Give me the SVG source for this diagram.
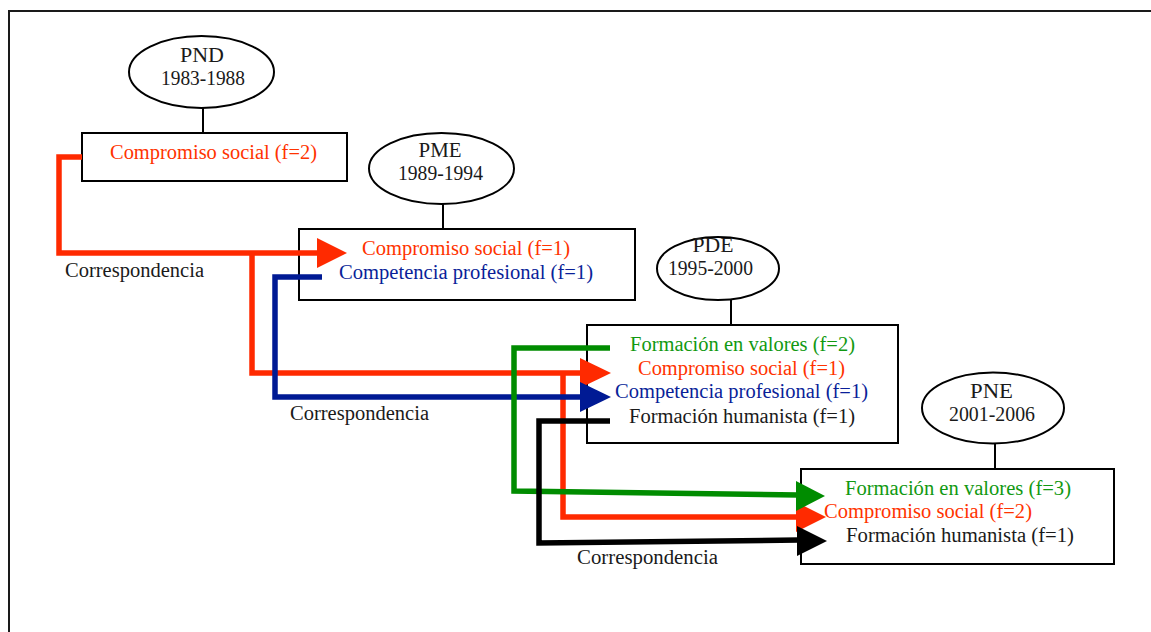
<svg xmlns="http://www.w3.org/2000/svg" width="1151" height="632" viewBox="0 0 1151 632">
  <style>
    text { font-family: "Liberation Serif", "DejaVu Serif", "Noto Serif", serif; font-size: 20px; text-anchor: middle; }
    .k { fill: #1a1a1a; }
    .r { fill: #ff3300; }
    .b { fill: #0a1f99; }
    .g { fill: #119911; }
    .shape { fill: #ffffff; stroke: #000000; stroke-width: 2; }
    .tie { stroke: #000000; stroke-width: 2; fill: none; }
    .wire { fill: none; stroke-width: 5.5; stroke-linejoin: miter; stroke-linecap: butt; }
    .wr { stroke: #ff2a00; }
    .wb { stroke: #001a94; }
    .wg { stroke: #008c00; }
    .wk { stroke: #000000; }
  </style>

  <rect width="1151" height="632" fill="#ffffff"/>
  <!-- outer frame -->
  <rect x="9" y="11" width="1170" height="650" fill="none" stroke="#1a1a1a" stroke-width="2"/>

  <!-- PND 1983-1988 -->
  <g id="pnd">
    <line class="tie" x1="203" y1="108" x2="203" y2="133"/>
    <ellipse class="shape" cx="201.5" cy="72" rx="72.5" ry="36"/>
    <text class="k" x="202" y="62" textLength="44" lengthAdjust="spacingAndGlyphs">PND</text>
    <text class="k" x="203" y="85" textLength="84" lengthAdjust="spacingAndGlyphs">1983-1988</text>
    <rect class="shape" x="82" y="133" width="265" height="48"/>
    <text class="r" x="213.5" y="159" textLength="207" lengthAdjust="spacingAndGlyphs">Compromiso social (f=2)</text>
  </g>

  <!-- PME 1989-1994 -->
  <g id="pme">
    <line class="tie" x1="443" y1="204" x2="443" y2="229"/>
    <ellipse class="shape" cx="441.5" cy="168.5" rx="72.5" ry="35.5"/>
    <text class="k" x="440" y="157" textLength="43" lengthAdjust="spacingAndGlyphs">PME</text>
    <text class="k" x="440.5" y="180" textLength="85" lengthAdjust="spacingAndGlyphs">1989-1994</text>
    <rect class="shape" x="299" y="229" width="336" height="71"/>
    <text class="r" x="466" y="255" textLength="208" lengthAdjust="spacingAndGlyphs">Compromiso social (f=1)</text>
    <text class="b" x="466" y="279" textLength="254" lengthAdjust="spacingAndGlyphs">Competencia profesional (f=1)</text>
  </g>

  <!-- PDE 1995-2000 -->
  <g id="pde">
    <line class="tie" x1="731" y1="300" x2="731" y2="325"/>
    <ellipse class="shape" cx="718" cy="268.5" rx="61" ry="31.5"/>
    <text class="k" x="713" y="252" textLength="41" lengthAdjust="spacingAndGlyphs">PDE</text>
    <text class="k" x="710.5" y="275" textLength="85" lengthAdjust="spacingAndGlyphs">1995-2000</text>
    <rect class="shape" x="587" y="325" width="311" height="118"/>
    <text class="g" x="742.5" y="351" textLength="225" lengthAdjust="spacingAndGlyphs">Formación en valores (f=2)</text>
    <text class="r" x="741.5" y="375" textLength="207" lengthAdjust="spacingAndGlyphs">Compromiso social (f=1)</text>
    <text class="b" x="741.5" y="398" textLength="253" lengthAdjust="spacingAndGlyphs">Competencia profesional (f=1)</text>
    <text class="k" x="742" y="423" textLength="226" lengthAdjust="spacingAndGlyphs">Formación humanista (f=1)</text>
  </g>

  <!-- PNE 2001-2006 -->
  <g id="pne">
    <line class="tie" x1="995" y1="443" x2="995" y2="469"/>
    <ellipse class="shape" cx="993" cy="408" rx="71" ry="35.5"/>
    <text class="k" x="991.5" y="398" textLength="43" lengthAdjust="spacingAndGlyphs">PNE</text>
    <text class="k" x="992" y="421" textLength="86" lengthAdjust="spacingAndGlyphs">2001-2006</text>
    <rect class="shape" x="801" y="469" width="313" height="95"/>
    <text class="g" x="958" y="495" textLength="226" lengthAdjust="spacingAndGlyphs">Formación en valores (f=3)</text>
    <text class="k" x="960" y="542" textLength="228" lengthAdjust="spacingAndGlyphs">Formación humanista (f=1)</text>
  </g>

  <!-- correspondence connectors -->
  <g id="connectors">
    <!-- red: Compromiso social -->
    <polyline class="wire wr" points="82,157 59,157 59,253 318,253"/>
    <polygon fill="#ff2a00" points="317,238 347,253 317,268"/>
    <polyline class="wire wr" points="252,253 252,373 582,373"/>
    <polygon fill="#ff2a00" points="580,358 611,373 580,388"/>
    <polyline class="wire wr" points="563,373 563,517 798,517"/>
    <polygon fill="#ff2a00" points="796,502 826,517 796,532"/>
    <!-- blue: Competencia profesional -->
    <polyline class="wire wb" points="322,277 275,277 275,397 582,397"/>
    <polygon fill="#001a94" points="580,382 611,397 580,412"/>
    <!-- green: Formación en valores -->
    <polyline class="wire wg" points="610,348 514,348 514,491 798,495"/>
    <polygon fill="#008c00" points="796,481 825,496 796,511"/>
    <!-- black: Formación humanista -->
    <polyline class="wire wk" points="610,421 539,421 539,543 799,540"/>
    <polygon fill="#000000" points="797,526 827,541 797,556"/>
  </g>

  <!-- label drawn over the arrow tip -->
  <text class="r" x="928" y="518" textLength="208" lengthAdjust="spacingAndGlyphs">Compromiso social (f=2)</text>

  <!-- connector labels -->
  <g id="labels">
    <text class="k" x="134.5" y="277" textLength="139" lengthAdjust="spacingAndGlyphs">Correspondencia</text>
    <text class="k" x="359.5" y="420" textLength="139" lengthAdjust="spacingAndGlyphs">Correspondencia</text>
    <text class="k" x="647.5" y="564" textLength="141" lengthAdjust="spacingAndGlyphs">Correspondencia</text>
  </g>
</svg>
